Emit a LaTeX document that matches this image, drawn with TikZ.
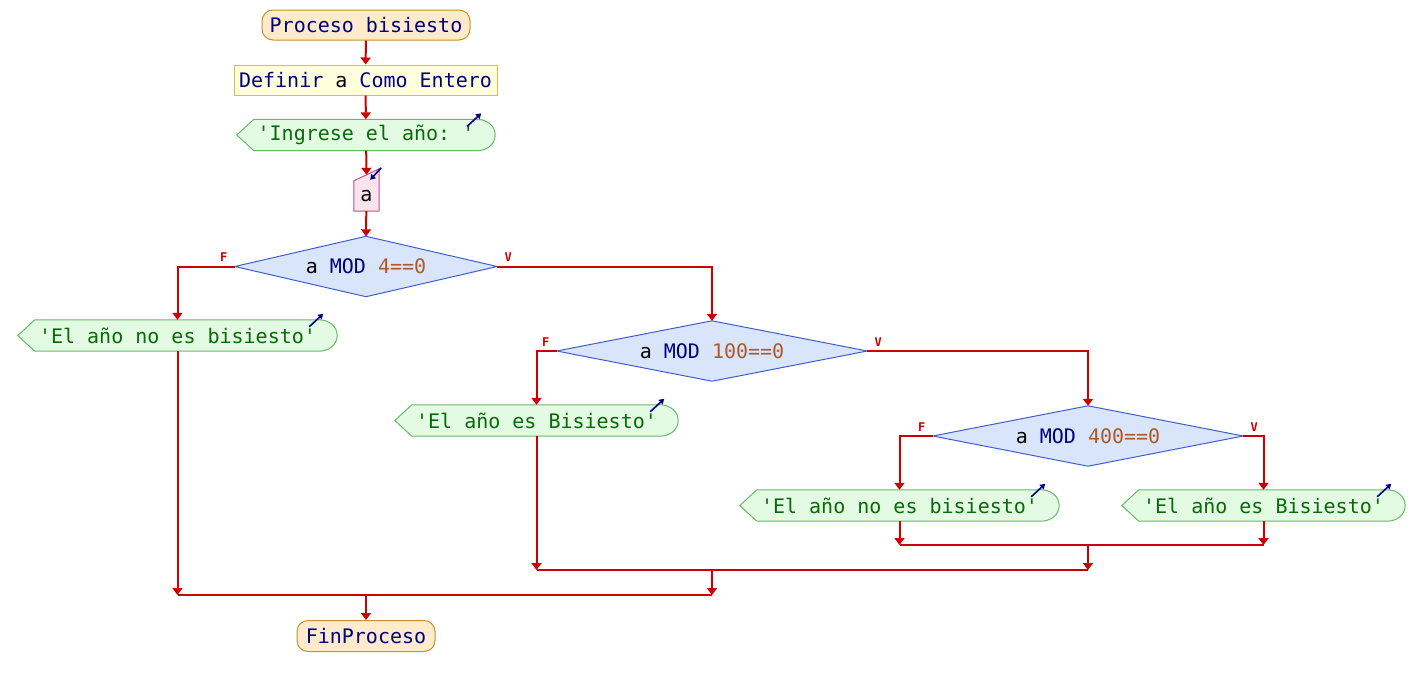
\documentclass[tikz,border=0pt]{standalone}
\usepackage{fontspec}
\setmonofont{DejaVu Sans Mono}
\usetikzlibrary{arrows.meta,calc,backgrounds}
\definecolor{arrowred}{HTML}{CC0000}
\definecolor{navy}{HTML}{000080}
\definecolor{numbrown}{HTML}{B0582A}
\definecolor{outtext}{HTML}{086A08}
\definecolor{termfill}{HTML}{FDEBCB}
\definecolor{termdraw}{HTML}{C8902E}
\definecolor{deffill}{HTML}{FFFFDC}
\definecolor{defdraw}{HTML}{C8C84B}
\definecolor{outfill}{HTML}{E2FBE2}
\definecolor{outdraw}{HTML}{66BB66}
\definecolor{infill}{HTML}{FCE4EE}
\definecolor{indraw}{HTML}{C0508A}
\definecolor{decfill}{HTML}{D8E5FA}
\definecolor{decdraw}{HTML}{3F5FCF}
\tikzset{
  flow/.style={draw=arrowred, line width=2pt, -{Triangle[width=10pt,length=7pt]}},
  joinline/.style={draw=arrowred, line width=2pt},
  txt/.style={font=\fontsize{20}{24}\selectfont\ttfamily, inner sep=0pt},
  term/.style={txt, draw=termdraw, fill=termfill, rounded corners=11pt, line width=1pt, text=navy, minimum height=30pt},
  defbox/.style={txt, draw=defdraw, fill=deffill, line width=1pt, text=navy, minimum height=30pt},
  outnode/.style={txt, text=outtext, minimum height=31pt},
  outline/.style={draw=outdraw, fill=outfill, line width=1pt},
  innode/.style={txt, minimum width=25pt, minimum height=30pt},
  inline/.style={draw=indraw, fill=infill, line width=1pt},
  decnode/.style={txt, minimum height=60pt},
  decline/.style={draw=decdraw, fill=decfill, line width=1pt},
  icon/.style={draw=navy, line width=1.6pt, -{Triangle[width=6pt,length=5pt]}},
  fv/.style={font=\fontsize{12}{14}\selectfont\ttfamily\bfseries, text=arrowred, inner sep=0pt}
}
\newcommand\outshape[1]{%
  \begin{scope}[on background layer]
    \draw[outline] (#1.west) -- ($(#1.north west)+(17,0)$) -- ($(#1.north east)+(-18,0)$)
      to[out=0,in=90] (#1.east) to[out=-90,in=0] ($(#1.south east)+(-18,0)$)
      -- ($(#1.south west)+(17,0)$) -- cycle;
  \end{scope}
  \draw[icon] ($(#1.north east)+(-28,7)$) -- ($(#1.north east)+(-14,-6)$);}
\newcommand\decshape[1]{%
  \begin{scope}[on background layer]
    \draw[decline] (#1.west) -- (#1.north) -- (#1.east) -- (#1.south) -- cycle;
  \end{scope}}
\begin{document}
\begin{tikzpicture}[x=1pt,y=-1pt]
\useasboundingbox (0,0) rectangle (1424,686);

\node[term, minimum width=208pt] (start) at (366,25) {Proceso bisiesto};
\node[defbox, minimum width=263pt] (def) at (365.5,80) {Definir \textcolor{black}{a} Como Entero};
\node[outnode, minimum width=258pt] (ing) at (366,135) {'Ingrese el año: '};
\outshape{ing}
\node[innode] (inp) at (366.5,196) {a};
\begin{scope}[on background layer]
  \draw[inline] (inp.south west) -- (inp.north west) -- ($(inp.north east)+(0,-12)$) -- (inp.south east) -- cycle;
\end{scope}
\coordinate (inptop) at ($(inp.north)+(0,-6)$);
\draw[icon] ($(inp.north east)+(2,-13)$) -- ($(inp.north east)+(-9,-1)$);

\node[decnode, minimum width=262pt] (d1) at (366,266.5) {a \textcolor{navy}{MOD} \textcolor{numbrown}{4==0}};
\decshape{d1}
\node[decnode, minimum width=310pt] (d2) at (712,351) {a \textcolor{navy}{MOD} \textcolor{numbrown}{100==0}};
\decshape{d2}
\node[decnode, minimum width=310pt] (d3) at (1088,436) {a \textcolor{navy}{MOD} \textcolor{numbrown}{400==0}};
\decshape{d3}

\node[outnode, minimum width=319pt] (o1) at (177.5,335.5) {'El año no es bisiesto'};
\outshape{o1}
\node[outnode, minimum width=283pt] (o2) at (536.5,420.5) {'El año es Bisiesto'};
\outshape{o2}
\node[outnode, minimum width=319pt] (o3) at (899.5,505.5) {'El año no es bisiesto'};
\outshape{o3}
\node[outnode, minimum width=283pt] (o4) at (1263.5,505.5) {'El año es Bisiesto'};
\outshape{o4}

\node[term, minimum width=138pt, minimum height=31pt] (fin) at (366,636) {FinProceso};

\node[fv] (f1) at ($(d1.west)+(-11,-9)$) {F};
\node[fv] (v1) at ($(d1.east)+(11,-9)$) {V};
\node[fv] (f2) at ($(d2.west)+(-11,-9)$) {F};
\node[fv] (v2) at ($(d2.east)+(11,-9)$) {V};
\node[fv] (f3) at ($(d3.west)+(-11,-9)$) {F};
\node[fv] (v3) at ($(d3.east)+(11,-9)$) {V};

\draw[flow] (start) -- (def);
\draw[flow] (def) -- (ing);
\draw[flow] (ing) -- (inptop);
\draw[flow] (inp) -- (d1.north);
\draw[flow] (d1.west) -| (o1.north);
\draw[flow] (d1.east) -| (d2.north);
\draw[flow] (d2.west) -| (o2.north);
\draw[flow] (d2.east) -| (d3.north);
\draw[flow] (d3.west) -| (o3.north);
\draw[flow] (d3.east) -| (o4.north);

\coordinate (j3) at (1088,545);
\coordinate (j2) at (712,570);
\coordinate (j1) at (366,595);
\draw[flow] (o3.south) -- (o3.south |- j3);
\draw[flow] (o4.south) -- (o4.south |- j3);
\draw[joinline] (o3.south |- j3) -- (o4.south |- j3);
\draw[flow] (j3) -- (j3 |- j2);
\draw[flow] (o2.south) -- (o2.south |- j2);
\draw[joinline] (o2.south |- j2) -- (j3 |- j2);
\draw[flow] (o1.south) -- (o1.south |- j1);
\draw[flow] (j2) -- (j2 |- j1);
\draw[joinline] (o1.south |- j1) -- (j2 |- j1);
\draw[flow] (j1) -- (fin);
\end{tikzpicture}
\end{document}
